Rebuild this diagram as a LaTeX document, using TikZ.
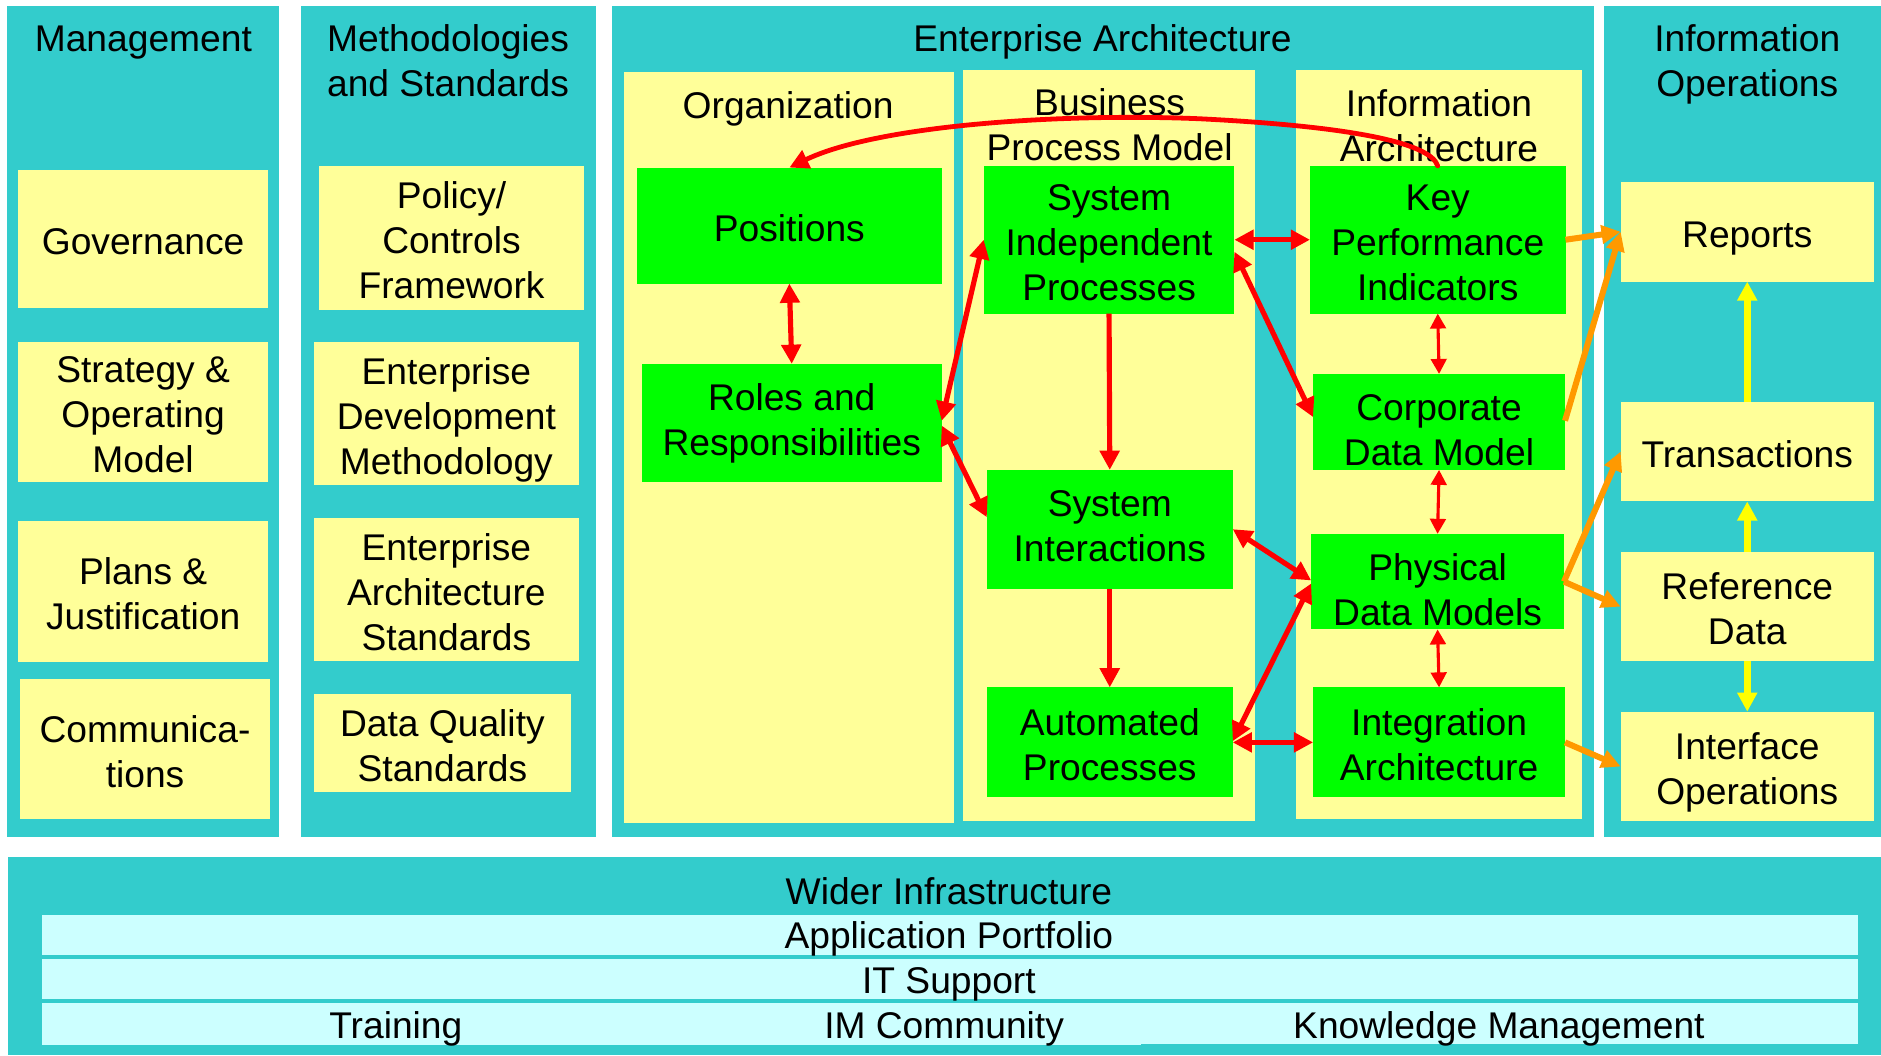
\documentclass[tikz,border=0pt]{standalone}
\usepackage{fontspec}
\setmainfont{Liberation Sans}
\usetikzlibrary{arrows.meta}
\definecolor{tealc}{RGB}{51,204,204}
\definecolor{ylw}{RGB}{255,255,153}
\definecolor{grn}{RGB}{0,255,0}
\definecolor{cyl}{RGB}{204,255,255}
\definecolor{redc}{RGB}{255,0,0}
\definecolor{orc}{RGB}{255,153,0}
\definecolor{yac}{RGB}{255,255,0}
\newcommand{\bodyfont}{\fontsize{31pt}{37.5pt}\selectfont}
\newcommand{\vs}{\rule[-6.7pt]{0pt}{35.4pt}}
\newcommand{\vst}{\rule[-6.7pt]{0pt}{39.4pt}}
\newcommand{\bx}[7][]{\node[#1, minimum width={(#5-#3)*1pt}, minimum height={(#6-#4)*1pt}] (#2) at ({(#3+#5)/2},{(#4+#6)/2}) {\vst#7\vs};}
\tikzset{
  txt/.style={font=\bodyfont, align=center, inner sep=0pt, outer sep=0pt, text=black},
  ybox/.style={txt, fill=ylw},
  gbox/.style={txt, fill=grn},
  tipB/.tip={Triangle[length=16pt,width=16pt]},
  tipS/.tip={Triangle[length=12.5pt,width=13pt]},
  tipO/.tip={Triangle[length=16pt,width=15pt]},
  tipY/.tip={Triangle[length=16pt,width=16pt]},
  redA/.style={draw=redc, line width=4.3pt, tipB-tipB},
  redD/.style={draw=redc, line width=4.3pt, -tipB},
  redT/.style={draw=redc, line width=2.6pt, tipS-tipS},
  redC/.style={draw=redc, line width=4pt, line cap=round, -tipB},
  orgA/.style={draw=orc, line width=5pt, -tipO},
  yelA/.style={draw=yac, line width=5.5pt, -tipY},
}
\begin{document}
\begin{tikzpicture}[x=1pt,y=-1pt]
\useasboundingbox (0,0) rectangle (1568,879.5);
\fill[white] (0,0) rectangle (1568,879.5);
% teal columns
\fill[tealc] (6,5) rectangle (232.6,698);
\fill[tealc] (250.8,5) rectangle (496.7,698);
\fill[tealc] (510,5) rectangle (1328.5,698);
\fill[tealc] (1337,5) rectangle (1568,698);
\fill[tealc] (6.5,714.7) rectangle (1568,879.5);
% EA inner panels
\fill[ylw] (520,59.7) rectangle (795,686.4);
\fill[ylw] (802.7,58.3) rectangle (1046,684.7);
\fill[ylw] (1080,58.3) rectangle (1318.6,682.7);
% bottom rows
\fill[cyl] (35,762.5) rectangle (1548.6,796);
\fill[cyl] (35,799) rectangle (1548.6,832.5);
\fill[cyl] (35,836) rectangle (951,871.4);
\fill[cyl] (951,836) rectangle (1548.6,870.6);
% titles
\node[txt] (tmgmt) at (119.5,32) {\vs Management\vs};
\node[txt] (tmeth) at (373.5,50.5) {\vs Methodologies\\and Standards\vs};
\node[txt] (tea) at (919,32) {\vs Enterprise Architecture\vs};
\node[txt] (torg) at (657,87.5) {\vs Organization\vs};
\node[txt] (tbpm) at (925,104) {\vs Business\\Process Model\vs};
\node[txt] (tia) at (1199.5,104.5) {\vs Information\\Architecture\vs};
\node[txt] (tio) at (1456.5,50.5) {\vs Information\\Operations\vs};
\node[txt] (twi) at (791,743) {\vs Wider Infrastructure\vs};
\node[txt] (tap) at (791,780) {\vs Application Portfolio\vs};
\node[txt] (tits) at (791,817) {\vs IT Support\vs};
\node[txt] (ttr) at (330,855) {\vs Training\vs};
\node[txt] (timc) at (787,855) {\vs IM Community\vs};
\node[txt] (tkm) at (1249.5,855) {\vs Knowledge Management\vs};
% Management
\bx[ybox]{gov}{15.2}{141.7}{223.4}{256.4}{Governance}
\bx[ybox]{strat}{15.2}{284.7}{223.4}{402.2}{Strategy \&\\Operating\\Model}
\bx[ybox]{plans}{15.2}{434.6}{223.5}{551.6}{Plans \&\\Justification}
\bx[ybox]{comm}{16.8}{566}{225}{683}{Communica-\\tions}
% Methodologies
\bx[ybox]{policy}{266}{138.3}{486.8}{258}{Policy/\\Controls\\Framework}
\bx[ybox]{edm}{261.8}{284.7}{482.4}{404.7}{Enterprise\\Development\\Methodology}
\bx[ybox]{eas}{261.8}{431.7}{482.4}{551.4}{Enterprise\\Architecture\\Standards}
\bx[ybox]{dq}{261.8}{578.3}{475.8}{660.6}{Data Quality\\Standards}
% EA boxes
\bx[gbox]{pos}{531}{139.7}{785}{236.4}{Positions}
\bx[gbox]{roles}{535}{303.3}{785}{402.2}{}
\node[txt] (troles) at ([yshift=3.2pt]roles.center) {\vs Roles and\\Responsibilities\vs};
\bx[gbox]{sip}{820}{138.3}{1029}{261.4}{System\\Independent\\Processes}
\bx[gbox]{si}{822.6}{391.7}{1027.6}{490.6}{}
\node[txt] (tsi) at ([yshift=2.6pt]si.center) {\vs System\\Interactions\vs};
\bx[gbox]{ap}{822.6}{573}{1027.6}{664.7}{Automated\\Processes}
\bx[gbox]{kpi}{1092}{138.3}{1305}{261.4}{Key\\Performance\\Indicators}
\bx[gbox]{cdm}{1094.6}{311.7}{1304.6}{391.7}{}
\node[txt] (tcdm) at ([yshift=-6.8pt]cdm.center) {\vs Corporate\\Data Model\vs};
\bx[gbox]{pdm}{1093}{445}{1303.7}{524.7}{}
\node[txt] (tpdm) at ([yshift=-6.6pt]pdm.center) {\vs Physical\\Data Models\vs};
\bx[gbox]{ia}{1094.6}{573}{1304.6}{664.7}{Integration\\Architecture}
% IO boxes
\bx[ybox]{rep}{1351}{151.7}{1562}{234.7}{Reports}
\bx[ybox]{trans}{1351}{334.7}{1562}{418}{Transactions}
\bx[ybox]{ref}{1351}{460}{1562}{551.4}{Reference\\Data}
\bx[ybox]{iface}{1351}{593.3}{1562}{684.7}{Interface\\Operations}
% red connectors
\draw[redC] (kpi.north) .. controls (1192,118) and (1120,105) .. (1000,99) .. controls (880,94) and (730,105) .. (pos.north);
\draw[redA] (pos.south) -- (roles.north);
\draw[redA] ([yshift=2pt]roles.east) -- (sip.west);
\draw[redA] ([yshift=-2pt]roles.east) -- ([yshift=10pt]si.west);
\draw[redD] (sip.south) -- (si.north);
\draw[redD] (si.south) -- (ap.north);
\draw[redA] (sip.east) -- (kpi.west);
\draw[redA] ([yshift=-10pt]sip.east) -- ([yshift=4pt]cdm.west);
\draw[redT] (kpi.south) -- (cdm.north);
\draw[redT] (cdm.south) -- (pdm.north);
\draw[redT] (pdm.south) -- (ia.north);
\draw[redA] (si.east) -- ([yshift=1pt]pdm.west);
\draw[redA] ([yshift=1pt]ap.east) -- ([yshift=-1.5pt]pdm.west);
\draw[redA] (ap.east) -- (ia.west);
% orange connectors
\draw[orgA] (kpi.east) -- (rep.west);
\draw[orgA] ([yshift=1pt]cdm.east) -- (rep.west);
\draw[orgA] (pdm.east) -- (trans.west);
\draw[orgA] (pdm.east) -- (ref.west);
\draw[orgA] (ia.east) -- (iface.west);
% yellow connectors
\draw[yelA] (trans.north) -- (rep.south);
\draw[yelA] (ref.north) -- (trans.south);
\draw[yelA] (ref.south) -- (iface.north);
\end{tikzpicture}
\end{document}
